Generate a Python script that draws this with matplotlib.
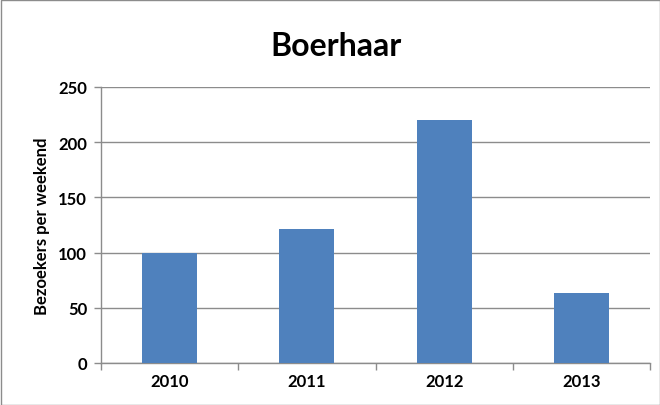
import matplotlib
matplotlib.use("Agg")
import matplotlib.pyplot as plt
from matplotlib.patches import Rectangle

years = ["2010", "2011", "2012", "2013"]
visitors = [100, 121, 220, 63]
yticks = [0, 50, 100, 150, 200, 250]

title = "Boerhaar"
ylabel = "Bezoekers per weekend"

plt.rcParams['font.family'] = ['Lato', 'DejaVu Sans']

fig = plt.figure(figsize=(6.6, 4.06), dpi=100)
ax = fig.add_axes([101/660, 1 - 364/406, (650-101)/660, (364-88)/406])

x = list(range(len(years)))
ax.bar(x, visitors, width=0.4, color="#4F81BD", zorder=3)
ax.set_xlim(-0.5, len(years) - 0.5)
ax.set_ylim(0, 250)
ax.set_yticks(yticks)
ax.set_yticklabels([str(t) for t in yticks], fontsize=12, fontweight="bold")
ax.set_xticks(x)
ax.set_xticklabels(years, fontsize=12, fontweight="bold")
ax.tick_params(axis="x", length=0, pad=7)
ax.set_xticks([i + 0.5 for i in range(-1, len(years))], minor=True)
ax.tick_params(axis="x", which="minor", length=5, color="#8C8C8C", width=1)
ax.tick_params(axis="y", length=5, color="#8C8C8C", width=1, pad=5)
ax.grid(axis="y", color="#8C8C8C", linewidth=1, zorder=0)
for s in ["top", "right"]:
    ax.spines[s].set_visible(False)
for s in ["left", "bottom"]:
    ax.spines[s].set_color("#8C8C8C")
    ax.spines[s].set_linewidth(1)

ax.set_ylabel(ylabel, fontsize=12, fontweight="bold", labelpad=6)
fig.text(336 / 660, 1 - 46 / 406, title, ha="center", va="center",
         fontsize=23, fontweight="bold")

fig.patches.append(Rectangle((0.5/660, 0.5/406), 1 - 1/660, 1 - 1/406, transform=fig.transFigure,
                             fill=False, edgecolor="#8C8C8C", linewidth=1))

fig.savefig("out.png", dpi=100)
